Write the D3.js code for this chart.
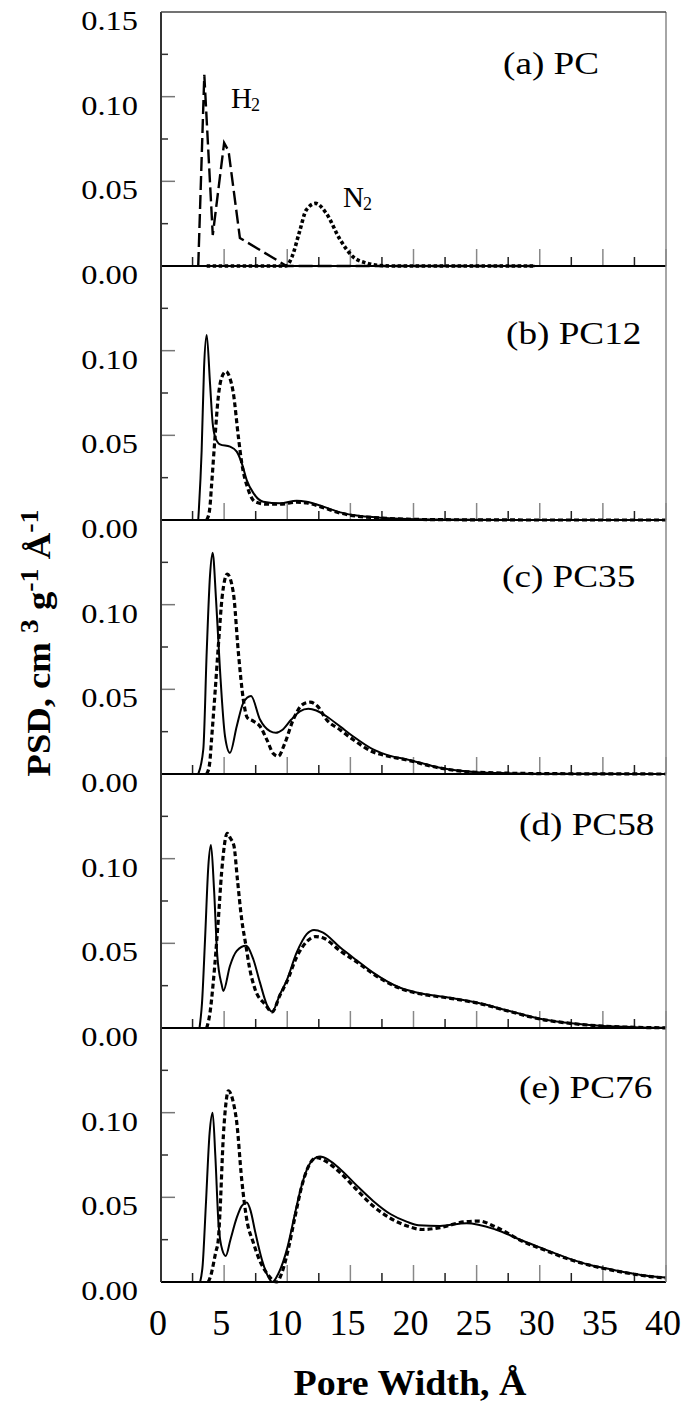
<!DOCTYPE html>
<html>
<head>
<meta charset="utf-8">
<script src="https://cdn.jsdelivr.net/npm/d3@7"></script>
<style>
  body { margin: 0; background: #fff; }
  text { font-family: "Liberation Serif", "Times New Roman", serif; fill: #000; }
</style>
</head>
<body>
<div id="chart"></div>
<script>
// panel names, top to bottom
var panelLabels = ["(a) PC", "(b) PC12", "(c) PC35", "(d) PC58", "(e) PC76"];
var xTicks = [0, 5, 10, 15, 20, 25, 30, 35, 40];
var yTicks = [0, 0.05, 0.10, 0.15];

// [pore width (A), PSD]
var pcH2 = [[2.95,0],[3.43,0.1129],[4.1,0.0183],[5.0,0.0727],[5.35,0.068],[6.25,0.0165],[7.6,0.0105],[9.95,0],[29.6,0]];
var pcN2 = [[3.62,0],[9.9,0],[10.35,0.005],[11,0.021],[11.5,0.033],[12.25,0.037],[13.1,0.031],[14.2,0.0154],[15.2,0.0055],[16.3,0.0017],[17.3,0.0003],[18.5,0],[29.6,0]];

var pc12Solid = [[2.95,0],[3.22,0.041],[3.41,0.09],[3.62,0.1093],[3.88,0.081],[4.09,0.0573],[4.28,0.0492],[4.67,0.0447],[5.47,0.0433],[6.0,0.0404],[6.39,0.0337],[6.79,0.0236],[7.31,0.016],[8.1,0.0108],[9.43,0.0099],[10.75,0.0114],[11.54,0.0108],[12.86,0.0079],[14.2,0.0045],[15.5,0.0026],[17.35,0.0014],[19.5,0.0006],[22,0.0003],[25,0.0001],[30,0],[40,0]];
var pc12Dot = [[3.62,0],[3.85,0.006],[4.0,0.02],[4.28,0.049],[4.54,0.0729],[4.8,0.084],[5.15,0.0877],[5.45,0.084],[5.73,0.0749],[6.13,0.049],[6.39,0.034],[6.92,0.0177],[7.45,0.0108],[8.37,0.0093],[9.43,0.0093],[10.75,0.0105],[11.54,0.0101],[12.86,0.0073],[14.2,0.0041],[15.5,0.0023],[17.35,0.0012],[19.5,0.0005],[22,0.0002],[25,0.0001],[30,0],[40,0]];

var pc35Solid = [[2.95,0],[3.35,0.0145],[3.62,0.072],[3.88,0.117],[4.09,0.1307],[4.36,0.103],[4.67,0.0618],[5.07,0.0223],[5.46,0.0125],[6.0,0.0282],[6.52,0.042],[7.13,0.046],[7.84,0.0322],[8.63,0.0253],[9.1,0.0243],[9.6,0.026],[10.3,0.032],[11,0.037],[11.67,0.0385],[12.3,0.0375],[13.1,0.0341],[14.2,0.028],[15.2,0.0223],[16.8,0.0145],[18,0.011],[19.5,0.0086],[22.1,0.0037],[25,0.0011],[27.5,0.0005],[30.8,0.0002],[35,0.0001],[40,0]];
var pc35Dot = [[3.62,0],[3.85,0.006],[4.0,0.02],[4.3,0.05],[4.54,0.0755],[4.85,0.105],[5.25,0.118],[5.73,0.107],[6.13,0.0716],[6.52,0.044],[6.84,0.0332],[7.31,0.0312],[7.84,0.0282],[8.4,0.02],[8.9,0.012],[9.29,0.0105],[9.8,0.018],[10.48,0.0322],[11.2,0.041],[11.8,0.0424],[12.4,0.04],[13.1,0.0322],[14.2,0.026],[15.2,0.0204],[16.8,0.013],[18,0.0105],[19.5,0.0082],[22.1,0.0035],[25,0.001],[30.8,0.0002],[40,0]];

var pc58Solid = [[3.05,0],[3.25,0.015],[3.49,0.0525],[3.75,0.0957],[3.96,0.108],[4.2,0.082],[4.46,0.0426],[4.8,0.0258],[4.94,0.0219],[5.46,0.0366],[6.0,0.0455],[6.73,0.0485],[7.31,0.0406],[7.84,0.0268],[8.37,0.014],[8.8,0.0097],[9.43,0.02],[9.95,0.028],[10.75,0.0446],[11.54,0.0554],[12.12,0.0579],[12.8,0.0565],[14.2,0.0475],[15.5,0.04],[16.8,0.0327],[18.9,0.0239],[20.5,0.0205],[22.5,0.0183],[25,0.015],[27.6,0.01],[30,0.0055],[32.5,0.0028],[35,0.0012],[37.5,0.0005],[40,0.0002]];
var pc58Dot = [[3.62,0],[3.9,0.01],[4.14,0.027],[4.54,0.064],[4.8,0.0918],[5.25,0.1149],[5.5,0.112],[5.78,0.1075],[6.05,0.0879],[6.39,0.0642],[6.73,0.0485],[7.0,0.036],[7.45,0.0229],[8.24,0.014],[8.8,0.0095],[9.43,0.0195],[9.95,0.027],[10.75,0.042],[11.54,0.051],[12.25,0.054],[12.9,0.053],[14.2,0.0455],[15.5,0.039],[16.8,0.032],[18.9,0.0235],[20.5,0.0202],[22.5,0.018],[25,0.0148],[27.6,0.0098],[30,0.0053],[32.5,0.0027],[35,0.0011],[37.5,0.0004],[40,0.0001]];

var pc76Solid = [[3.1,0],[3.3,0.01],[3.55,0.045],[3.85,0.088],[4.09,0.1],[4.3,0.075],[4.55,0.035],[4.85,0.019],[5.13,0.0154],[5.5,0.025],[6.0,0.038],[6.4,0.045],[6.79,0.0469],[7.1,0.042],[7.45,0.03],[8.0,0.013],[8.5,0.003],[8.82,0],[9.3,0.005],[10.0,0.02],[10.6,0.04],[11.0,0.053],[11.54,0.066],[12.0,0.072],[12.6,0.0741],[13.3,0.072],[14.2,0.0666],[15.5,0.057],[16.8,0.0479],[18.2,0.04],[19.5,0.0355],[20.4,0.0335],[22.1,0.0331],[24.2,0.0347],[26.5,0.031],[28.7,0.0242],[30.5,0.019],[32.1,0.0144],[34,0.01],[35.6,0.0075],[37.5,0.0048],[39,0.0032],[40,0.0027]];
var pc76Dot = [[3.75,0],[3.95,0.004],[4.33,0.0174],[4.54,0.025],[4.67,0.041],[4.94,0.0863],[5.15,0.106],[5.33,0.1129],[5.73,0.106],[6.0,0.0942],[6.39,0.0607],[6.79,0.037],[7.31,0.0233],[7.8,0.013],[8.4,0.005],[9.16,0],[9.6,0.006],[10.1,0.02],[10.6,0.038],[11.2,0.058],[11.8,0.07],[12.33,0.0735],[13.0,0.0715],[14.2,0.0645],[15.5,0.0545],[16.8,0.0449],[18.2,0.0375],[19.5,0.0331],[20.7,0.031],[22.1,0.0321],[24,0.0355],[25.2,0.036],[26.5,0.0325],[28.7,0.0238],[30.5,0.0185],[32.1,0.014],[34,0.0098],[35.6,0.0072],[37.5,0.0046],[39,0.003],[40,0.0024]];

var solids = [null, pc12Solid, pc35Solid, pc58Solid, pc76Solid];
var dots = [pcN2, pc12Dot, pc35Dot, pc58Dot, pc76Dot];

// layout
var W = 684, H = 1405;
var left = 161, right = 666, top0 = 12, panelH = 254;
var labelPos = [[503, 74], [506, 344], [502, 587], [519, 835], [519, 1098]];

var svg = d3.select("#chart").append("svg")
    .attr("width", W).attr("height", H);

var x = d3.scaleLinear().domain([0, 40]).range([left, right]);

for (var i = 0; i < 5; i++) {
    var pTop = top0 + i * panelH;
    var y = d3.scaleLinear().domain([0, 0.15]).range([pTop + panelH, pTop]);
    var g = svg.append("g");

    // x ticks along the bottom of each panel, pointing up
    var xt = d3.range(2.5, 40.01, 2.5);
    g.selectAll(".xt").data(xt).join("line")
        .attr("x1", d => x(d)).attr("x2", d => x(d))
        .attr("y1", y(0))
        .attr("y2", d => y(0) - (d % 5 == 0 ? 17 : 9))
        .attr("stroke", d => d % 5 == 0 ? "#888" : "#222")
        .attr("stroke-width", 1.5);

    // y ticks, pointing inward
    var yt = [0.025, 0.05, 0.075, 0.10, 0.125];
    g.selectAll(".yt").data(yt).join("line")
        .attr("x1", left)
        .attr("x2", d => left + (Math.round(d * 1000) % 50 == 0 ? 14 : 7))
        .attr("y1", d => y(d)).attr("y2", d => y(d))
        .attr("stroke", d => Math.round(d * 1000) % 50 == 0 ? "#777" : "#333")
        .attr("stroke-width", 1.5);

    // y tick labels
    var labs = i == 0 ? yTicks : yTicks.slice(0, 3);
    g.selectAll(".yl").data(labs).join("text")
        .attr("transform", d => "translate(138," + (y(d) + 18) + ") scale(1.2,1)")
        .attr("text-anchor", "end")
        .style("font-size", "27px")
        .text(d => d3.format(".2f")(d));

    // curves
    var line = d3.line().x(d => x(d[0])).y(d => y(d[1])).curve(d3.curveMonotoneX);
    if (i == 0) {
        g.append("path").datum(pcH2)
            .attr("d", d3.line().x(d => x(d[0])).y(d => y(d[1])))
            .attr("fill", "none").attr("stroke", "#000")
            .attr("stroke-width", 2.4).attr("stroke-dasharray", "14,5");
        g.append("path").datum(pcN2)
            .attr("d", line)
            .attr("fill", "none").attr("stroke", "#000")
            .attr("stroke-width", 3.6).attr("stroke-dasharray", "3.5,2.5");
    } else {
        g.append("path").datum(dots[i])
            .attr("d", line)
            .attr("fill", "none").attr("stroke", "#000")
            .attr("stroke-width", 3.2).attr("stroke-dasharray", "5,3");
        g.append("path").datum(solids[i])
            .attr("d", line)
            .attr("fill", "none").attr("stroke", "#000")
            .attr("stroke-width", 2);
    }

    // panel bottom line
    g.append("line")
        .attr("x1", left).attr("x2", right)
        .attr("y1", y(0)).attr("y2", y(0))
        .attr("stroke", "#000").attr("stroke-width", 2);

    // panel label
    g.append("text")
        .attr("transform", "translate(" + labelPos[i][0] + "," + labelPos[i][1] + ") scale(1.2,1)")
        .style("font-size", "31px")
        .text(panelLabels[i]);
}

// frame
var bottom = top0 + 5 * panelH;
svg.append("line").attr("x1", left).attr("x2", left).attr("y1", top0).attr("y2", bottom)
    .attr("stroke", "#333").attr("stroke-width", 2);
svg.append("line").attr("x1", right).attr("x2", right).attr("y1", top0).attr("y2", bottom)
    .attr("stroke", "#888").attr("stroke-width", 1.5);
svg.append("line").attr("x1", left).attr("x2", right).attr("y1", top0).attr("y2", top0)
    .attr("stroke", "#444").attr("stroke-width", 1.5);

// gas labels in panel (a)
function gasLabel(px, py, main) {
    var t = svg.append("text").attr("x", px).attr("y", py).style("font-size", "29px");
    t.append("tspan").text(main);
    t.append("tspan").attr("dx", -1).attr("dy", 3).style("font-size", "18px").text("2");
}
gasLabel(231, 108, "H");
gasLabel(343, 207, "N");

// x tick labels
svg.selectAll(".xl").data(xTicks).join("text")
    .attr("x", d => x(d) - 3).attr("y", bottom + 53)
    .attr("text-anchor", "middle")
    .style("font-size", "36px")
    .text(d => d);

// x title
var xt = svg.append("text")
    .attr("text-anchor", "middle")
    .style("font-size", "35px").style("font-weight", "bold")
    .text("Pore Width, Å");
var xw = xt.node().getComputedTextLength();
xt.attr("transform", "translate(410,1395) scale(" + (233 / xw) + ",1)");

// y title
var yt = svg.append("text")
    .attr("text-anchor", "middle")
    .style("font-size", "34px").style("font-weight", "bold");
yt.append("tspan").text("PSD, cm ");
yt.append("tspan").attr("dy", -12).style("font-size", "26px").text("3");
yt.append("tspan").attr("dy", 12).text(" g");
yt.append("tspan").attr("dy", -12).style("font-size", "26px").text("-1");
yt.append("tspan").attr("dy", 12).text(" Å");
yt.append("tspan").attr("dy", -12).style("font-size", "26px").text("-1");
var yw = yt.node().getComputedTextLength();
yt.attr("transform", "translate(50,643) rotate(-90) scale(" + (267 / yw) + ",1)");
</script>
</body>
</html>
